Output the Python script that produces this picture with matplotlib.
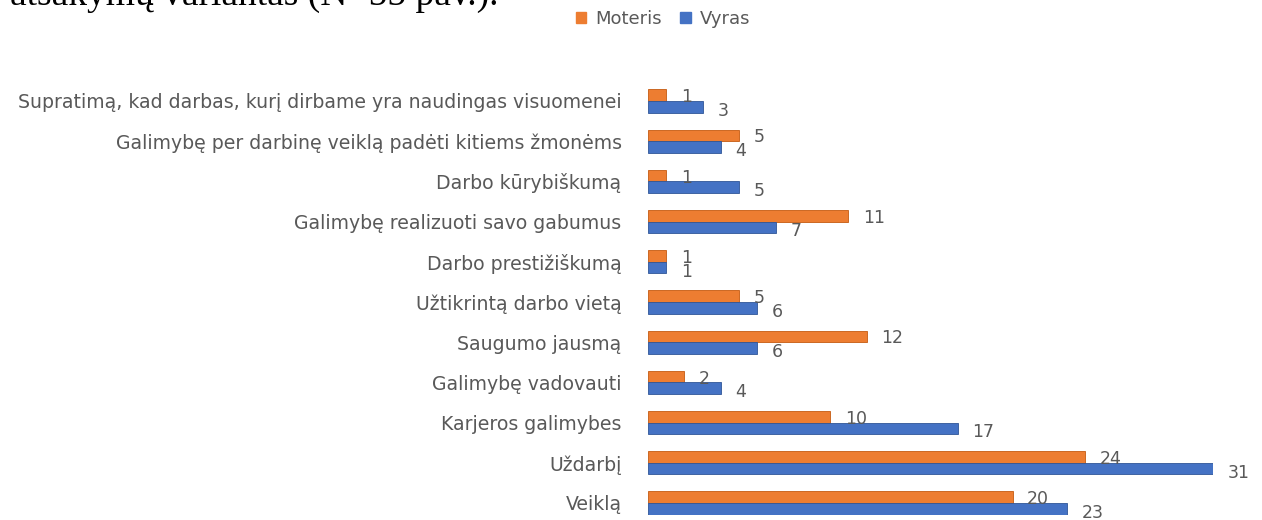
import matplotlib
matplotlib.use('Agg')
import matplotlib.pyplot as plt
from matplotlib.patches import Patch

plt.rcParams['font.family'] = ['DejaVu Sans']

# Duomenys
kategorijos = ['Supratimą, kad darbas, kurį dirbame yra naudingas visuomenei',
               'Galimybę per darbinę veiklą padėti kitiems žmonėms',
               'Darbo kūrybiškumą',
               'Galimybę realizuoti savo gabumus',
               'Darbo prestižiškumą',
               'Užtikrintą darbo vietą',
               'Saugumo jausmą',
               'Galimybę vadovauti',
               'Karjeros galimybes',
               'Uždarbį',
               'Veiklą']
moteris = [1, 5, 1, 11, 1, 5, 12, 2, 10, 24, 20]
vyras = [3, 4, 5, 7, 1, 6, 6, 4, 17, 31, 23]

c_mot = '#ED7D31'
c_vyr = '#4472C4'
txt = '#595959'

fig = plt.figure(figsize=(12.62, 5.20), dpi=100)
ax = fig.add_axes([648/1262, 5/520, 565/1262, 445/520])

y = list(range(len(kategorijos)))
h = 0.29
ax.barh([i - h/2 for i in y], moteris, height=h, color=c_mot, edgecolor='#C55A11', linewidth=0.6)
ax.barh([i + h/2 for i in y], vyras, height=h, color=c_vyr, edgecolor='#2F5597', linewidth=0.6)

for i in y:
    ax.text(moteris[i] + 0.8, i - h/2 + 0.05, str(moteris[i]), va='center', ha='left',
            fontsize=12.5, color=txt, clip_on=False)
    ax.text(vyras[i] + 0.8, i + h/2 + 0.1, str(vyras[i]), va='center', ha='left',
            fontsize=12.5, color=txt, clip_on=False)

ax.set_xlim(0, 31)
ax.set_ylim(10 + 12/40.2, -31/40.2)
ax.set_yticks(y)
ax.set_yticklabels(kategorijos, fontsize=13.6, color=txt)
ax.tick_params(axis='y', length=0, pad=19)
ax.set_xticks([])
for s in ax.spines.values():
    s.set_visible(False)

fig.legend(handles=[Patch(color=c_mot, label='Moteris'), Patch(color=c_vyr, label='Vyras')],
           loc='center', bbox_to_anchor=(663/1262, 1 - 19/520), ncol=2, frameon=False,
           fontsize=13, handlelength=0.6, handleheight=0.6, handletextpad=0.5,
           columnspacing=1.0, labelcolor=txt)

# iš dalies nukirptas dokumento tekstas viršuje
fig.text(10/1262, 1 - 5/520, 'atsakymų variantas (N=55 pav.).', family='Liberation Serif',
         fontsize=27, va='baseline', ha='left', color='black')

fig.savefig('out.png', dpi=100)
